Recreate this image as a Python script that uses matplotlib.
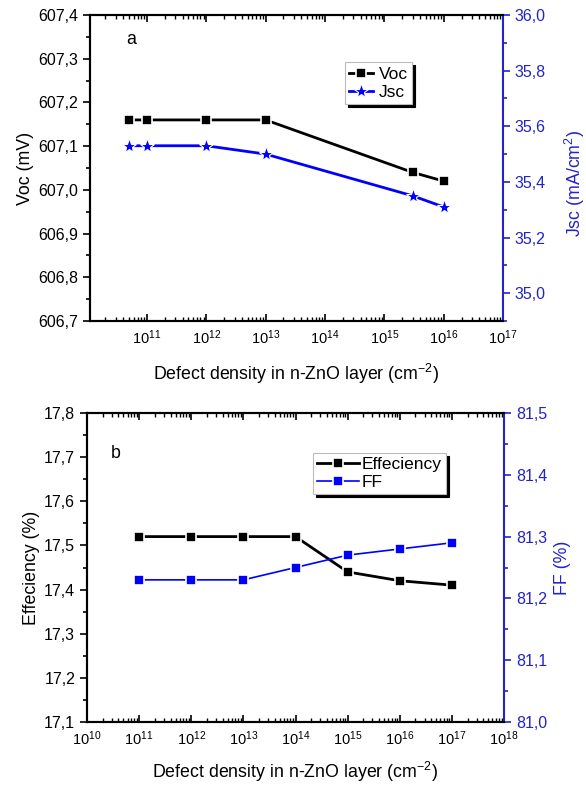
import matplotlib
matplotlib.use("Agg")
import matplotlib.pyplot as plt
from matplotlib.ticker import FuncFormatter, MultipleLocator, LogLocator, LogFormatterMathtext, NullFormatter

plt.rcParams['font.family'] = ['Liberation Sans', 'DejaVu Sans']
plt.rcParams['mathtext.fontset'] = 'custom'
plt.rcParams['mathtext.rm'] = 'Liberation Sans'
plt.rcParams['mathtext.it'] = 'Liberation Sans:italic'
plt.rcParams['mathtext.bf'] = 'Liberation Sans:bold'

# ---- Data (panel a) ----
defect_a = [5e10, 1e11, 1e12, 1e13, 3e15, 1e16]
voc = [607.16, 607.16, 607.16, 607.16, 607.04, 607.02]
jsc = [35.53, 35.53, 35.53, 35.50, 35.35, 35.31]

# ---- Data (panel b) ----
defect_b = [1e11, 1e12, 1e13, 1e14, 1e15, 1e16, 1e17]
eff = [17.52, 17.52, 17.52, 17.52, 17.44, 17.42, 17.41]
ff = [81.23, 81.23, 81.23, 81.25, 81.27, 81.28, 81.29]

BLUE = '#0000FF'
AXBLUE = '#2323C8'
XFS = 10.5   # x tick labels
YFS = 11.5   # y tick labels
LFS = 12.8   # axis labels
GFS = 12.5   # legend

def comma(v, pos):
    return f"{v:.1f}".replace('.', ',')

fig = plt.figure(figsize=(5.86, 7.87), dpi=100)

def style(ax, ax2, xlim, ylim, y2lim, y2major, y2minor):
    ax.set_xscale('log')
    ax.set_xlim(*xlim)
    ax.set_ylim(*ylim)
    ax2.set_ylim(*y2lim)
    ax.xaxis.set_major_locator(LogLocator(base=10, numticks=20))
    ax.xaxis.set_minor_locator(LogLocator(base=10, subs=range(2, 10), numticks=20))
    ax.xaxis.set_major_formatter(LogFormatterMathtext())
    ax.xaxis.set_minor_formatter(NullFormatter())
    ax.yaxis.set_major_locator(MultipleLocator(0.1))
    ax.yaxis.set_minor_locator(MultipleLocator(0.05))
    ax.yaxis.set_major_formatter(FuncFormatter(comma))
    ax2.yaxis.set_major_locator(MultipleLocator(y2major))
    ax2.yaxis.set_minor_locator(MultipleLocator(y2minor))
    ax2.yaxis.set_major_formatter(FuncFormatter(comma))
    ax.tick_params(axis='x', which='both', direction='in', top=True, bottom=True, labelsize=XFS, pad=5)
    ax.tick_params(axis='x', which='major', length=5, width=1.2)
    ax.tick_params(axis='x', which='minor', length=3, width=1.0)
    ax.tick_params(axis='y', which='both', direction='out', labelsize=YFS, width=1.2)
    ax.tick_params(axis='y', which='major', length=5)
    ax.tick_params(axis='y', which='minor', length=3)
    ax2.tick_params(axis='y', which='both', direction='out', labelsize=YFS, colors=AXBLUE, width=1.2)
    ax2.tick_params(axis='y', which='major', length=5)
    ax2.tick_params(axis='y', which='minor', length=3)
    for s in ['left', 'top', 'bottom']:
        ax.spines[s].set_linewidth(1.5)
        ax2.spines[s].set_linewidth(1.5)
    ax2.spines['right'].set_color(AXBLUE)
    ax2.spines['right'].set_linewidth(1.5)
    ax.spines['right'].set_visible(False)

# ---------- Panel a ----------
axa = fig.add_axes([90/586, 1-321/787, 413/586, 306/787])
axa2 = axa.twinx()
style(axa, axa2, (1.1e10, 1e17), (606.7, 607.4), (34.9, 36.0), 0.2, 0.1)
l1, = axa.plot(defect_a, voc, color='black', lw=2, marker='s', ms=7.5,
               mec='white', mew=1.2, mfc='black', label='Voc', zorder=3)
l2, = axa2.plot(defect_a, jsc, color=BLUE, lw=2, marker='*', ms=11,
                mec='white', mew=0.8, mfc=BLUE, label='Jsc', zorder=3)
axa.set_ylabel('Voc (mV)', fontsize=LFS, labelpad=3)
axa2.set_ylabel('Jsc (mA/cm$^2$)', fontsize=LFS, color=AXBLUE, labelpad=5)
axa2.yaxis.set_label_coords(1.145, 0.45)
axa.set_xlabel('Defect density in n-ZnO layer (cm$^{-2}$)', fontsize=LFS, labelpad=11)
axa.text(0.10, 0.92, 'a', transform=axa.transAxes, fontsize=LFS, va='center', ha='center')
leg = axa2.legend([l1, l2], ['Voc', 'Jsc'], loc='upper left', bbox_to_anchor=(0.617, 0.845),
                  frameon=True, fancybox=False, shadow={'color': 'black', 'alpha': 1},
                  edgecolor='#bbbbbb', fontsize=GFS, handlelength=1.4, handletextpad=0.3,
                  borderpad=0.25, labelspacing=0.15, borderaxespad=0, framealpha=1)
leg.get_frame().set_linewidth(0.8)

# ---------- Panel b ----------
axb = fig.add_axes([87/586, 1-722/787, 417/586, 309/787])
axb2 = axb.twinx()
style(axb, axb2, (1e10, 1e18), (17.1, 17.8), (81.0, 81.5), 0.1, 0.05)
l3, = axb.plot(defect_b, eff, color='black', lw=2, marker='s', ms=7.5,
               mec='white', mew=1.2, mfc='black', label='Effeciency', zorder=3)
l4, = axb2.plot(defect_b, ff, color=BLUE, lw=1.2, marker='s', ms=7.5,
                mec='white', mew=1.2, mfc=BLUE, label='FF', zorder=3)
axb.set_ylabel('Effeciency (%)', fontsize=LFS, labelpad=3)
axb2.set_ylabel('FF (%)', fontsize=LFS, color=AXBLUE, labelpad=5)
axb.set_xlabel('Defect density in n-ZnO layer (cm$^{-2}$)', fontsize=LFS, labelpad=9)
axb.text(0.07, 0.87, 'b', transform=axb.transAxes, fontsize=LFS, va='center', ha='center')
leg2 = axb2.legend([l3, l4], ['Effeciency', 'FF'], loc='upper left', bbox_to_anchor=(0.542, 0.871),
                   frameon=True, fancybox=False, shadow={'color': 'black', 'alpha': 1},
                   edgecolor='#bbbbbb', fontsize=GFS, handlelength=2.4, handletextpad=0.15,
                   borderpad=0.25, labelspacing=0.15, borderaxespad=0, framealpha=1)
leg2.get_frame().set_linewidth(0.8)

fig.savefig('out.png', dpi=100)
